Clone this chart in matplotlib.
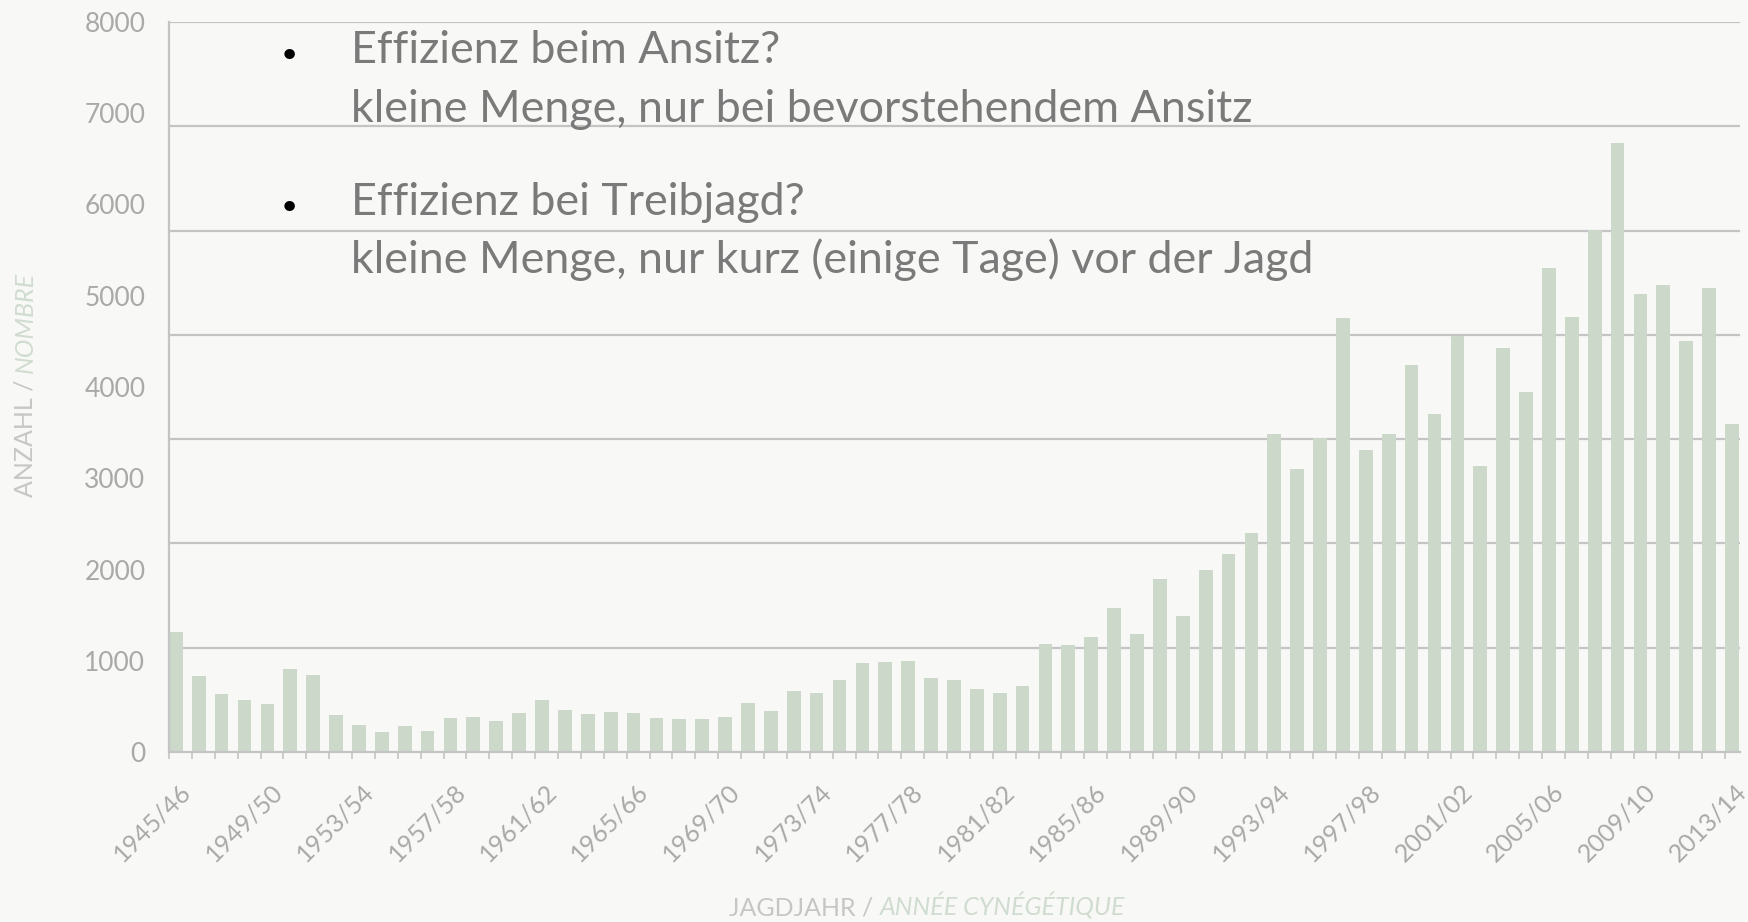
"""Wild boar harvest per hunting season, with two overlaid bullet notes."""

import matplotlib.pyplot as plt
from matplotlib.transforms import ScaledTranslation

# Hunting seasons 1945/46 .. 2013/14
START_YEARS = list(range(1945, 2014))
SEASONS = [f"{y}/{(y + 1) % 100:02d}" for y in START_YEARS]

# Number of animals per season
HARVEST = [
    1320, 835, 640, 565, 530, 910, 845, 400, 295, 220,
    280, 230, 375, 380, 345, 430, 575, 455, 420, 435,
    430, 370, 360, 360, 385, 535, 445, 665, 650, 785,
    980, 990, 1000, 815, 785, 690, 650, 725, 1180, 1175,
    1260, 1575, 1295, 1900, 1485, 1990, 2175, 2395, 3480, 3105,
    3445, 4760, 3305, 3480, 4245, 3705, 4555, 3135, 4425, 3940,
    5300, 4770, 5725, 6670, 5015, 5120, 4500, 5085, 3590,
]

Y_TICKS = [0, 1000, 2000, 3000, 4000, 5000, 6000, 7000, 8000]
LABEL_EVERY = 4

NOTES = [
    ("Effizienz beim Ansitz?", "kleine Menge, nur bei bevorstehendem Ansitz"),
    ("Effizienz bei Treibjagd?", "kleine Menge, nur kurz (einige Tage) vor der Jagd"),
]

BG = "#f8f8f6"
BAR_COLOR = "#cbd8ca"
GRID_COLOR = "#c4c4c4"
TICK_COLOR = "#a9a9a9"
LABEL_GRAY = "#c6c6c6"
LABEL_GREEN = "#d0dccf"
NOTE_COLOR = "#7a7a7a"
FONT = "Lato"

W, H = 1748, 922


def draw_bars(fig, ax):
    x = list(range(len(HARVEST)))
    ax.bar(x, HARVEST, width=0.6, align="edge", color=BAR_COLOR, zorder=2)
    ax.set_xlim(0, len(HARVEST) - 0.35)
    ax.set_ylim(0, 8000)

    # the horizontal rules in the picture do not follow the tick labels
    for k in range(1, 8):
        ax.axhline(8000 * k / 7, color=GRID_COLOR, lw=1.6, zorder=1)

    ax.set_yticks(Y_TICKS)
    ax.set_yticklabels([str(v) for v in Y_TICKS], color=TICK_COLOR,
                       fontsize=19, family=FONT)
    ax.tick_params(axis="y", length=0, pad=17)

    ax.set_xticks(x)
    ax.set_xticklabels([])
    ax.tick_params(axis="x", length=5, width=1.2, color=GRID_COLOR)

    shift = ScaledTranslation(0.11, -0.36, fig.dpi_scale_trans)
    for i in range(0, len(SEASONS), LABEL_EVERY):
        ax.text(i + 0.3, 0, SEASONS[i], rotation=45, rotation_mode="anchor",
                ha="right", va="center", color=TICK_COLOR, fontsize=18,
                family=FONT, transform=ax.get_xaxis_transform() + shift)

    for side in ("top", "right"):
        ax.spines[side].set_visible(False)
    for side in ("left", "bottom"):
        ax.spines[side].set_color(GRID_COLOR)
        ax.spines[side].set_linewidth(1.6)


def draw_axis_titles(fig):
    renderer = fig.canvas.get_renderer()

    # x title: two styles, centred as a pair
    t1 = fig.text(0, 1 - 915 / H, "JAGDJAHR / ", ha="left", va="baseline",
                  color=LABEL_GRAY, fontsize=18, family=FONT)
    t2 = fig.text(0, 1 - 915 / H, "ANNÉE CYNÉGÉTIQUE", ha="left",
                  va="baseline", color=LABEL_GREEN, fontsize=18, family=FONT,
                  style="italic")
    w1 = t1.get_window_extent(renderer).width
    w2 = t2.get_window_extent(renderer).width
    left = 927 - (w1 + w2) / 2
    t1.set_x(left / W)
    t2.set_x((left + w1) / W)

    # y title: rotated, "NOMBRE" stacked above "ANZAHL / "
    y1 = fig.text(25 / W, 1 - 497 / H, "ANZAHL / ", rotation=90,
                  ha="center", va="bottom", color=LABEL_GRAY, fontsize=18,
                  family=FONT)
    fig.canvas.draw()
    plt.annotate("NOMBRE", xy=(0.5, 1), xycoords=y1, rotation=90,
                 ha="center", va="bottom", color=LABEL_GREEN, fontsize=18,
                 family=FONT, style="italic")


def draw_notes(fig):
    baselines = [(63, 122), (215, 273)]
    for (head, body), (y_head, y_body) in zip(NOTES, baselines):
        fig.text(289 / W, 1 - (y_head - 6) / H, "\u2022", ha="center",
                 va="center", color="black", fontsize=26, family="DejaVu Sans")
        fig.text(351 / W, 1 - y_head / H, head, ha="left",
                 va="baseline", color=NOTE_COLOR, fontsize=32.3, family=FONT)
        fig.text(351 / W, 1 - y_body / H, body, ha="left",
                 va="baseline", color=NOTE_COLOR, fontsize=32.3, family=FONT)


def main():
    fig = plt.figure(figsize=(W / 100, H / 100), dpi=100, facecolor=BG)
    ax = fig.add_axes([169 / W, 1 - 752 / H, 1571 / W, 730 / H])
    ax.set_facecolor(BG)

    draw_bars(fig, ax)
    draw_axis_titles(fig)
    draw_notes(fig)

    fig.savefig("out.png", dpi=100, facecolor=BG)


if __name__ == "__main__":
    main()
